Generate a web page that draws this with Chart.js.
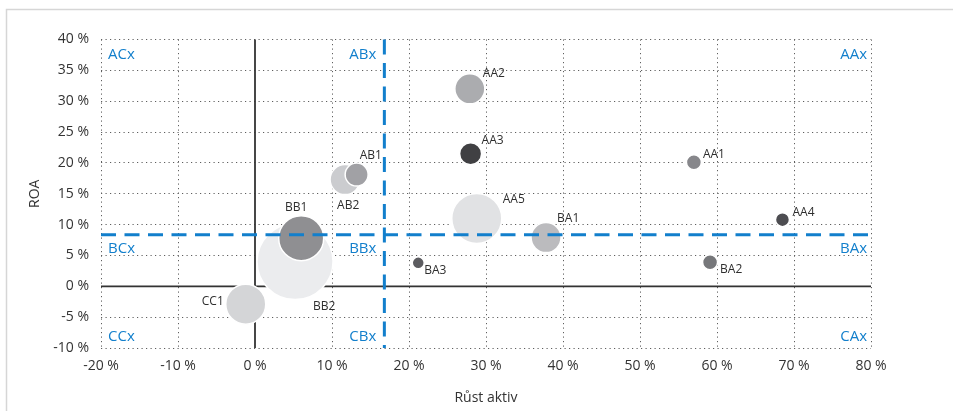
<!DOCTYPE html>
<html>
<head>
<meta charset="utf-8">
<script src="https://cdn.jsdelivr.net/npm/chart.js@4/dist/chart.umd.min.js"></script>
<style>
  html, body { margin: 0; padding: 0; background: #ffffff; }
  #wrap { width: 953px; height: 411px; position: relative; }
</style>
</head>
<body>
<div id="wrap"><canvas id="chart" width="953" height="411"></canvas></div>
<script>
// Companies: asset growth (%) vs. ROA (%), bubble size = company size
const names      = ['BB2', 'BB1', 'CC1', 'AB2', 'AB1', 'AA5', 'AA2', 'AA3', 'AA1', 'AA4', 'BA1', 'BA2', 'BA3'];
const assetGrowth = [5.2, 6.0, -1.2, 11.7, 13.2, 28.8, 27.9, 28.0, 57.0, 68.5, 37.8, 59.1, 21.2];
const roa         = [4.0, 7.8, -2.9, 17.3, 18.1, 11.0, 32.0, 21.5, 20.1, 10.8, 7.9, 3.9, 3.8];
const bubbleSize  = [38, 22.5, 20, 15, 11.5, 25, 15, 11, 7.5, 7, 15, 7.5, 6];

// Segment thresholds (asset growth, ROA)
const growthThreshold = [16.8];
const roaThreshold = [8.35];

// Axis ticks
const xTicks = [-20, -10, 0, 10, 20, 30, 40, 50, 60, 70, 80];
const yTicks = [-10, -5, 0, 5, 10, 15, 20, 25, 30, 35, 40];

// Segment labels: rows A/B/C (ROA), columns C/B/A (growth)
const segmentLabels = [
  ['ACx', 'ABx', 'AAx'],
  ['BCx', 'BBx', 'BAx'],
  ['CCx', 'CBx', 'CAx']
];

const bubbleColors = ['#ebecee', '#8f8f92', '#d4d5d7', '#cbcccf', '#a1a1a5', '#e1e2e4',
                      '#abacaf', '#404043', '#87878b', '#4d4d51', '#bbbbbe', '#76777a', '#5c5c60'];

// where each point's name sits relative to its bubble: [dx, dy, align]
const labelPlacement = {
  AA2: [13, -15, 'left'], AA3: [11, -13, 'left'], AA1: [9, -8, 'left'],
  AA4: [10, -7, 'left'], AA5: [26, -19, 'left'], BA1: [11, -19, 'left'],
  BA2: [10, 7, 'left'], BA3: [6, 8, 'left'], BB1: [-5, -31, 'center'],
  BB2: [18, 45, 'left'], CC1: [-22, -3, 'right'], AB1: [3, -19, 'left'],
  AB2: [-8, 26, 'left']
};

const points = names.map((n, i) => ({ x: assetGrowth[i], y: roa[i], r: bubbleSize[i] }));

const FONT = "'Open Sans', 'Noto Sans', sans-serif";
const BLUE = '#127fcc';

const frameAndZero = {
  id: 'frameAndZero',
  beforeDraw(chart) {
    const ctx = chart.ctx;
    ctx.save();
    ctx.strokeStyle = '#d6d6d6';
    ctx.lineWidth = 1.5;
    ctx.beginPath();
    ctx.moveTo(6.5, 411);
    ctx.lineTo(6.5, 9.5);
    ctx.lineTo(953, 9.5);
    ctx.stroke();
    ctx.restore();
  },
  beforeDatasetsDraw(chart) {
    const { ctx, chartArea: a, scales: { x, y } } = chart;
    ctx.save();
    ctx.strokeStyle = '#333333';
    ctx.lineWidth = 1.8;
    const x0 = x.getPixelForValue(0);
    const y0 = y.getPixelForValue(0);
    ctx.beginPath();
    ctx.moveTo(x0, a.top); ctx.lineTo(x0, a.bottom);
    ctx.moveTo(a.left, y0); ctx.lineTo(a.right, y0);
    ctx.stroke();
    ctx.restore();
  },
  afterDatasetsDraw(chart) {
    const { ctx, chartArea: a, scales: { x, y } } = chart;
    const tx = x.getPixelForValue(growthThreshold[0]);
    const ty = y.getPixelForValue(roaThreshold[0]);
    ctx.save();
    // threshold lines
    ctx.strokeStyle = BLUE;
    ctx.lineWidth = 3;
    ctx.setLineDash([15, 8.5]);
    ctx.beginPath();
    ctx.moveTo(tx, a.top); ctx.lineTo(tx, a.bottom);
    ctx.stroke();
    ctx.beginPath();
    ctx.moveTo(a.left, ty); ctx.lineTo(a.right, ty);
    ctx.stroke();
    ctx.setLineDash([]);

    // point names
    ctx.fillStyle = '#2e2e2e';
    ctx.font = "12px " + FONT;
    ctx.textBaseline = 'middle';
    const meta = chart.getDatasetMeta(0);
    meta.data.forEach((el, i) => {
      const p = labelPlacement[names[i]];
      ctx.textAlign = p[2];
      ctx.fillText(names[i], el.x + p[0], el.y + p[1]);
    });

    // segment names
    ctx.fillStyle = BLUE;
    ctx.font = "15px " + FONT;
    const rowsY = [a.top + 15, ty + 14, a.bottom - 11.5];
    rowsY.forEach((ry, r) => {
      ctx.textAlign = 'left';
      ctx.fillText(segmentLabels[r][0], a.left + 7, ry);
      ctx.textAlign = 'right';
      ctx.fillText(segmentLabels[r][1], tx - 8, ry);
      ctx.fillText(segmentLabels[r][2], a.right - 4, ry);
    });
    ctx.restore();
  }
};

new Chart(document.getElementById('chart'), {
  type: 'bubble',
  data: {
    datasets: [{
      data: points,
      backgroundColor: bubbleColors,
      borderColor: '#ffffff',
      borderWidth: 1.5
    }]
  },
  options: {
    responsive: false,
    animation: false,
    events: [],
    layout: { padding: { top: 35, right: 82, bottom: 0, left: 0 } },
    plugins: { legend: { display: false }, tooltip: { enabled: false } },
    scales: {
      x: {
        type: 'linear', min: -20, max: 80,
        afterBuildTicks: s => { s.ticks = xTicks.map(v => ({ value: v })); },
        afterFit: s => { s.height = 63; },
        grid: {
          drawTicks: false, lineWidth: 1,
          color: c => (c.tick && c.tick.value === 0) ? 'rgba(0,0,0,0)' : '#5e5e5e'
        },
        border: { display: false, dash: [1.2, 3.3] },
        ticks: {
          padding: 10, color: '#333333', font: { family: FONT, size: 14 },
          callback: v => v + ' %'
        },
        title: {
          display: true, text: 'Růst aktiv', color: '#333333',
          font: { family: FONT, size: 14 }, padding: { top: 0, bottom: 5 }
        }
      },
      y: {
        type: 'linear', min: -10, max: 40,
        afterBuildTicks: s => { s.ticks = yTicks.map(v => ({ value: v })); },
        afterFit: s => { s.width = 101; },
        grid: {
          drawTicks: false, lineWidth: 1,
          color: c => (c.tick && c.tick.value === 0) ? 'rgba(0,0,0,0)' : '#5e5e5e'
        },
        border: { display: false, dash: [1.2, 3.3] },
        ticks: {
          padding: 12, color: '#333333', font: { family: FONT, size: 14 },
          callback: v => v + ' %'
        },
        title: {
          display: true, text: 'ROA', color: '#333333',
          font: { family: FONT, size: 14 }, padding: { top: 27, bottom: 0 }
        }
      }
    }
  },
  plugins: [frameAndZero]
});
</script>
</body>
</html>
